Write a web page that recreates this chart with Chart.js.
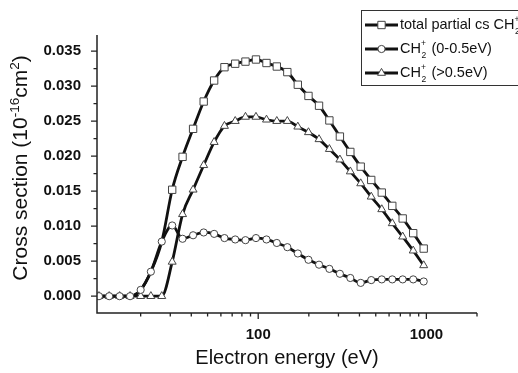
<!DOCTYPE html>
<html><head><meta charset="utf-8">
<script src="https://cdn.jsdelivr.net/npm/chart.js@4/dist/chart.umd.min.js"></script>
<style>html,body{margin:0;padding:0;background:#fff;}</style>
</head><body>
<canvas id="c" width="518" height="373" style="display:block;width:518px;height:373px"></canvas>
<script>
// ---- data ----
const energies = [11.3,13,15,17.3,20,23,26.7,30.8,35.5,41,47.4,54.7,63,73,84,97,112,129,149,172,199,230,265,306,353,407,470,543,627,723,835,964];
const totalCs = [0,0,0,0,0.0009,0.0035,0.0078,0.0152,0.0199,0.0239,0.0278,0.0308,0.0327,0.0332,0.0335,0.0338,0.0333,0.0328,0.0320,0.0302,0.0286,0.0272,0.0251,0.0228,0.0206,0.0185,0.0166,0.0148,0.0129,0.0111,0.0090,0.0068];
const lowCs = [0,0,0,0,0.0009,0.0035,0.0078,0.0101,0.0082,0.0087,0.0091,0.0089,0.0083,0.0081,0.0080,0.0083,0.0081,0.0076,0.0070,0.0061,0.0052,0.0045,0.0039,0.0032,0.0026,0.0019,0.0023,0.0024,0.0024,0.0024,0.0024,0.0021];
const highCs = [0,0,0,0,0,0,0,0.0049,0.0117,0.0152,0.0187,0.0220,0.0243,0.0250,0.0256,0.0256,0.0252,0.0250,0.0250,0.0242,0.0234,0.0224,0.0210,0.0195,0.0178,0.0161,0.0142,0.0124,0.0104,0.0085,0.0065,0.0044];
const yTickValues = [0,0.005,0.010,0.015,0.020,0.025,0.030,0.035];
const yMinorValues = [0.0025,0.0075,0.0125,0.0175,0.0225,0.0275,0.0325];
const xTickValues = [100,1000];
const xMinorValues = [20,30,40,50,60,70,80,90,200,300,400,500,600,700,800,900,2000];
const seriesNames = ['total partial cs CH', 'CH', 'CH'];
const seriesSuffix = ['', ' (0-0.5eV)', ' (>0.5eV)'];
const xTitle = 'Electron energy (eV)';
const yTitleParts = [['Cross section (10', false], ['-16', true], ['cm', false], ['2', true], [')', false]];

const FONT = "'Liberation Sans', Arial, sans-serif";
const toPts = arr => energies.map((e,i)=>({x:e,y:arr[i]}));

const styles = [
  {pointStyle:'rect', radius:5.2},
  {pointStyle:'circle', radius:3.6},
  {pointStyle:'triangle', radius:4.6}
];

const common = {
  borderColor:'#111', borderWidth:2.8, backgroundColor:'#fff',
  pointBackgroundColor:'#fff', pointBorderColor:'#444', pointBorderWidth:1,
  cubicInterpolationMode:'monotone', fill:false
};

const ticksPlugin = {
  id:'axisTicks',
  afterDraw(chart){
    const ctx = chart.ctx, xs = chart.scales.x, ys = chart.scales.y;
    const a = chart.chartArea;
    ctx.save();
    ctx.strokeStyle = '#222'; ctx.lineWidth = 1.5;
    ctx.beginPath();
    ctx.moveTo(a.left, a.top); ctx.lineTo(a.left, a.bottom); ctx.lineTo(a.right, a.bottom);
    ctx.stroke();
    ctx.lineWidth = 1.3;
    ctx.beginPath();
    yTickValues.forEach(v=>{const p=ys.getPixelForValue(v); ctx.moveTo(a.left,p); ctx.lineTo(a.left-6,p);});
    yMinorValues.forEach(v=>{const p=ys.getPixelForValue(v); ctx.moveTo(a.left,p); ctx.lineTo(a.left-3.5,p);});
    xTickValues.forEach(v=>{const p=xs.getPixelForValue(v); ctx.moveTo(p,a.bottom); ctx.lineTo(p,a.bottom+6);});
    xMinorValues.forEach(v=>{const p=xs.getPixelForValue(v); ctx.moveTo(p,a.bottom); ctx.lineTo(p,a.bottom+3.5);});
    ctx.stroke();

    // y axis title with real superscripts
    ctx.fillStyle = '#111';
    ctx.textBaseline = 'alphabetic';
    const big = '21px ' + FONT, small = '13.5px ' + FONT;
    let total = 0;
    yTitleParts.forEach(([t,s])=>{ ctx.font = s?small:big; total += ctx.measureText(t).width; });
    ctx.translate(27, (a.top + a.bottom)/2 - 6);
    ctx.rotate(-Math.PI/2);
    let x = -total/2;
    yTitleParts.forEach(([t,s])=>{
      ctx.font = s?small:big;
      ctx.fillText(t, x, s ? -8 : 0);
      x += ctx.measureText(t).width;
    });
    ctx.restore();
  }
};

const legendPlugin = {
  id:'boxLegend',
  afterDraw(chart){
    const ctx = chart.ctx;
    ctx.save();
    ctx.strokeStyle = '#333'; ctx.lineWidth = 1;
    ctx.fillStyle = '#fff';
    ctx.fillRect(361, 10, 170, 75);
    ctx.strokeRect(361.5, 10.5, 170, 75);
    const rowsY = [25, 49, 73];
    rowsY.forEach((y,i)=>{
      ctx.strokeStyle = '#111'; ctx.lineWidth = 2.8;
      ctx.beginPath(); ctx.moveTo(365,y); ctx.lineTo(398,y); ctx.stroke();
      ctx.fillStyle = '#fff'; ctx.strokeStyle = '#444'; ctx.lineWidth = 1;
      Chart.helpers.drawPoint(ctx, {pointStyle:styles[i].pointStyle, radius:styles[i].radius, borderWidth:1, rotation:0}, 381.5, y);
      ctx.fillStyle = '#111';
      ctx.textBaseline = 'middle';
      ctx.font = '14.5px ' + FONT;
      let x = 400;
      ctx.fillText(seriesNames[i], x, y);
      x += ctx.measureText(seriesNames[i]).width;
      ctx.font = '8.5px ' + FONT;
      ctx.fillText('2', x+0.5, y+7);
      ctx.fillText('+', x, y-5);
      x += 6.5;
      ctx.font = '14.5px ' + FONT;
      ctx.fillText(seriesSuffix[i], x, y);
    });
    ctx.restore();
  }
};

new Chart(document.getElementById('c'), {
  type:'line',
  data:{
    datasets:[
      Object.assign({}, common, {label:'total', data:toPts(totalCs), pointStyle:'rect', pointRadius:totalCs.map((v,i)=> lowCs[i]===v ? 0 : styles[0].radius), order:3}),
      Object.assign({}, common, {label:'low', data:toPts(lowCs), pointStyle:'circle', pointRadius:styles[1].radius, order:1}),
      Object.assign({}, common, {label:'high', data:toPts(highCs), pointStyle:'triangle', pointRadius:styles[2].radius, order:2})
    ]
  },
  options:{
    responsive:false, animation:false, devicePixelRatio:1,
    layout:{padding:{left:0, top:35, right:41, bottom:0}},
    plugins:{legend:{display:false}, tooltip:{enabled:false}},
    scales:{
      x:{
        type:'logarithmic', min:11, max:2000,
        grid:{display:false}, border:{display:false},
        afterBuildTicks: s => { s.ticks = xTickValues.map(v=>({value:v})); },
        afterFit: s => { s.height = 60; },
        ticks:{color:'#111', padding:5, maxRotation:0, autoSkip:false,
          font:{family:FONT, size:15, weight:'bold'},
          callback: v => String(v)},
        title:{display:true, text:xTitle, color:'#111', font:{family:FONT, size:20}, padding:{top:0,bottom:3}}
      },
      y:{
        type:'linear', min:-0.0024, max:0.0373,
        grid:{display:false}, border:{display:false},
        afterBuildTicks: s => { s.ticks = yTickValues.map(v=>({value:v})); },
        afterFit: s => { s.width = 97; },
        ticks:{color:'#111', padding:8, autoSkip:false,
          font:{family:FONT, size:15, weight:'bold'},
          callback: v => Number(v).toFixed(3)},
        title:{display:false}
      }
    }
  },
  plugins:[ticksPlugin, legendPlugin]
});
</script>
</body></html>
